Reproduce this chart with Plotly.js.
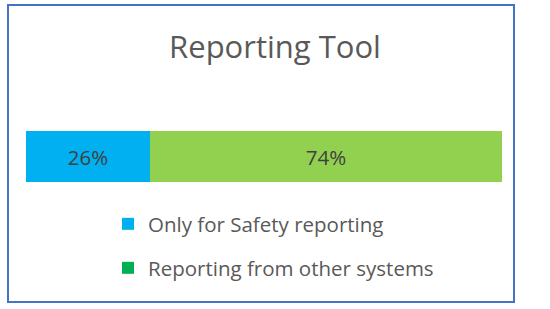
<!DOCTYPE html>
<html>
<head>
<meta charset="utf-8">
<script src="https://cdn.plot.ly/plotly-3.0.1.min.js"></script>
<style>html,body{margin:0;padding:0;background:#fff;}#chart{width:550px;height:309px;}</style>
</head>
<body>
<div id="chart"></div>
<script>
const chartTitle = 'Reporting Tool';
const categories = ['Reporting Tool'];
const seriesNames = ['Only for Safety reporting', 'Reporting from other systems'];
const safetyValues = [26];
const otherValues = [74];
const barColors = ['#00B0F0', '#92D050'];
const legendColors = ['#00B0F0', '#00B050'];

const FONT = 'Open Sans, Noto Sans, sans-serif';
const seriesValues = [safetyValues, otherValues];

const traces = [];
seriesValues.forEach((vals, i) => {
  traces.push({
    type: 'bar',
    orientation: 'h',
    name: seriesNames[i],
    x: vals,
    y: categories,
    text: vals.map(v => v + '%'),
    textposition: 'inside',
    insidetextanchor: 'middle',
    textangle: 0,
    textfont: {family: FONT, size: 20.5, color: '#404040'},
    marker: {color: barColors[i], line: {width: 0}},
    hoverinfo: 'skip',
    showlegend: false
  });
});
seriesNames.forEach((name, i) => {
  traces.push({
    type: 'scatter',
    mode: 'markers',
    name: name,
    x: [null],
    y: [null],
    marker: {symbol: 'square', size: 12, color: legendColors[i]},
    legend: i === 0 ? 'legend' : 'legend2',
    showlegend: true,
    hoverinfo: 'skip'
  });
});

const legendBase = {
  xref: 'container', yref: 'container',
  x: 108 / 550, xanchor: 'left', yanchor: 'middle',
  font: {family: FONT, size: 20.5, color: '#595959'},
  bgcolor: 'rgba(0,0,0,0)', borderwidth: 0,
  orientation: 'v', itemclick: false, itemdoubleclick: false
};

const layout = {
  width: 550, height: 309,
  margin: {l: 26, r: 48, t: 131, b: 127, pad: 0, autoexpand: false},
  paper_bgcolor: '#ffffff', plot_bgcolor: '#ffffff',
  barmode: 'stack', bargap: 0,
  title: {
    text: chartTitle,
    font: {family: FONT, size: 31, color: '#595959'},
    xref: 'container', x: 275 / 550, xanchor: 'center',
    yref: 'container', y: 1 - 47 / 309, yanchor: 'middle'
  },
  xaxis: {range: [0, 100], visible: false, fixedrange: true},
  yaxis: {type: 'category', range: [-0.5, 0.5], visible: false, fixedrange: true},
  legend: Object.assign({}, legendBase, {y: 1 - 224 / 309}),
  legend2: Object.assign({}, legendBase, {y: 1 - 268 / 309}),
  shapes: [{
    type: 'rect', xref: 'paper', yref: 'paper',
    x0: (8 - 26) / 476, x1: (514 - 26) / 476,
    y0: (182 - 302) / 51, y1: (182 - 5) / 51,
    line: {color: '#4472C4', width: 2},
    fillcolor: 'rgba(0,0,0,0)', layer: 'above'
  }]
};

Plotly.newPlot('chart', traces, layout, {displayModeBar: false, staticPlot: true});
</script>
</body>
</html>
